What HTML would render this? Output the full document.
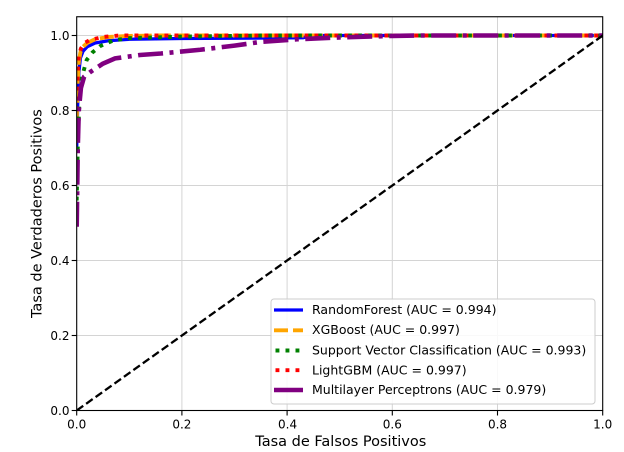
<!DOCTYPE html>
<html>
<head>
<meta charset="utf-8">
<style>
  html, body { margin:0; padding:0; background:#fff; }
  svg { display:block; }
  text { font-family: "DejaVu Sans", "Liberation Sans", sans-serif; fill:#000; }
</style>
</head>
<body>
<svg width="624" height="452" viewBox="0 0 624 452" xmlns="http://www.w3.org/2000/svg">
  <rect x="0" y="0" width="624" height="452" fill="#fff"/>
  <defs>
    <clipPath id="ax"><rect x="76.7" y="16.75" width="526" height="393.75"/></clipPath>
  </defs>

  <!-- grid -->
  <g stroke="#d4d4d4" stroke-width="1">
    <line x1="181.9" y1="16.75" x2="181.9" y2="410.5"/>
    <line x1="287.1" y1="16.75" x2="287.1" y2="410.5"/>
    <line x1="392.3" y1="16.75" x2="392.3" y2="410.5"/>
    <line x1="497.5" y1="16.75" x2="497.5" y2="410.5"/>
    <line x1="76.7" y1="335.5" x2="602.7" y2="335.5"/>
    <line x1="76.7" y1="260.5" x2="602.7" y2="260.5"/>
    <line x1="76.7" y1="185.5" x2="602.7" y2="185.5"/>
    <line x1="76.7" y1="110.5" x2="602.7" y2="110.5"/>
    <line x1="76.7" y1="35.5" x2="602.7" y2="35.5"/>
  </g>

  <g clip-path="url(#ax)" fill="none" stroke-linejoin="round">
    <!-- RandomForest -->
    <polyline stroke="#0000ff" stroke-width="3.3" points="76.7,148 77.75,103 78.8,73 80.4,58 83,51.3 87.2,46.75 95.1,43 108.3,40.75 129.3,39.25 181.9,38.5 302.9,37.75 313.4,35.5 602.7,35.5"/>
    <!-- XGBoost -->
    <polyline stroke="#ffa500" stroke-width="3.9" stroke-dasharray="14 5" points="76.7,121.75 77.75,80.5 78.8,61.75 80.4,52.4 83,46.75 87.2,43 95.1,39.25 108.3,37 129.3,35.9 155.6,35.5 602.7,35.5"/>
    <!-- SVC -->
    <polyline stroke="#008000" stroke-width="3.9" stroke-dasharray="3.9 6.1" points="76.7,200.5 77.75,148 79.3,103 82,76.75 86.7,59.9 92.5,52.4 100.4,46 113.5,40.4 129.3,38.1 181.9,36.6 260.8,35.5 602.7,35.5"/>
    <!-- LightGBM -->
    <polyline stroke="#ff0000" stroke-width="3.9" stroke-dasharray="3.9 6.1" points="76.7,110.5 77.75,73 78.8,56.1 80.9,48.6 84.6,43 89.9,40 103,37 118.8,35.5 602.7,35.5"/>
    <!-- MLP -->
    <polyline stroke="#800080" stroke-width="4.6" stroke-dasharray="25 6.5 4 6.5" points="76.7,226.75 77.75,148 78.8,110.5 80.9,88 84.1,76.75 90.4,71.9 103,63.6 115.1,58.4 139.8,55 160.9,53.5 200.3,49.75 234.5,45.6 260.8,41.9 297.6,39.25 339.7,37.4 392.3,35.9 418.6,35.5 602.7,35.5"/>
    <!-- diagonal -->
    <line x1="76.7" y1="410.5" x2="602.7" y2="35.5" stroke="#000" stroke-width="2.3" stroke-dasharray="8 3.6"/>
  </g>

  <!-- spines -->
  <rect x="76.7" y="16.75" width="526" height="393.75" fill="none" stroke="#000" stroke-width="1.1"/>

  <!-- ticks -->
  <g stroke="#000" stroke-width="1.1">
    <line x1="76.7" y1="410.5" x2="76.7" y2="415.5"/>
    <line x1="181.9" y1="410.5" x2="181.9" y2="415.5"/>
    <line x1="287.1" y1="410.5" x2="287.1" y2="415.5"/>
    <line x1="392.3" y1="410.5" x2="392.3" y2="415.5"/>
    <line x1="497.5" y1="410.5" x2="497.5" y2="415.5"/>
    <line x1="602.7" y1="410.5" x2="602.7" y2="415.5"/>
    <line x1="71.7" y1="410.5" x2="76.7" y2="410.5"/>
    <line x1="71.7" y1="335.5" x2="76.7" y2="335.5"/>
    <line x1="71.7" y1="260.5" x2="76.7" y2="260.5"/>
    <line x1="71.7" y1="185.5" x2="76.7" y2="185.5"/>
    <line x1="71.7" y1="110.5" x2="76.7" y2="110.5"/>
    <line x1="71.7" y1="35.5" x2="76.7" y2="35.5"/>
  </g>

  <g font-size="12" text-anchor="middle">
    <text x="76.7" y="428.5">0.0</text>
    <text x="181.9" y="428.5">0.2</text>
    <text x="287.6" y="428.5">0.4</text>
    <text x="392.3" y="428.5">0.6</text>
    <text x="497.5" y="428.5">0.8</text>
    <text x="602.7" y="428.5">1.0</text>
  </g>
  <g font-size="12" text-anchor="end">
    <text x="69.5" y="414.9">0.0</text>
    <text x="69.5" y="339.9">0.2</text>
    <text x="69.5" y="264.9">0.4</text>
    <text x="69.5" y="189.9">0.6</text>
    <text x="69.5" y="114.9">0.8</text>
    <text x="69.5" y="39.9">1.0</text>
  </g>

  <text x="340.8" y="446" font-size="14.5" text-anchor="middle">Tasa de Falsos Positivos</text>
  <text transform="translate(41.5,213.6) rotate(-90)" x="0" y="0" font-size="14.5" text-anchor="middle">Tasa de Verdaderos Positivos</text>

  <!-- legend -->
  <rect x="271" y="299" width="324" height="105" rx="3" ry="3" fill="#fff" fill-opacity="0.85" stroke="#cccccc" stroke-width="1"/>
  <g fill="none">
    <line x1="274" y1="310" x2="303" y2="310" stroke="#0000ff" stroke-width="3.3"/>
    <line x1="274" y1="330.3" x2="303" y2="330.3" stroke="#ffa500" stroke-width="3.9" stroke-dasharray="14 5"/>
    <line x1="275.5" y1="350.5" x2="303" y2="350.5" stroke="#008000" stroke-width="3.9" stroke-dasharray="3.9 6.1"/>
    <line x1="275.5" y1="370.2" x2="303" y2="370.2" stroke="#ff0000" stroke-width="3.9" stroke-dasharray="3.9 6.1"/>
    <line x1="274" y1="390" x2="303" y2="390" stroke="#800080" stroke-width="4.6"/>
  </g>
  <g font-size="12.5">
    <text x="312" y="314">RandomForest (AUC = 0.994)</text>
    <text x="312" y="334.2">XGBoost (AUC = 0.997)</text>
    <text x="312" y="354.6">Support Vector Classification (AUC = 0.993)</text>
    <text x="312" y="374.5">LightGBM (AUC = 0.997)</text>
    <text x="312" y="394.2">Multilayer Perceptrons (AUC = 0.979)</text>
  </g>
</svg>
</body>
</html>
